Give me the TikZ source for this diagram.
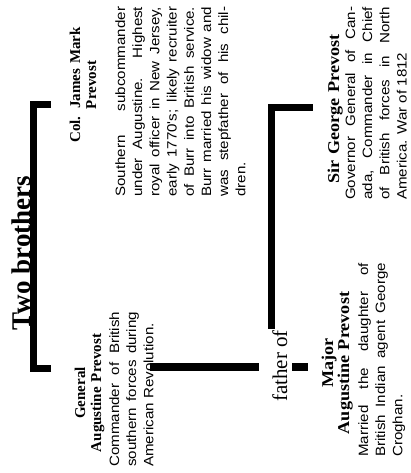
\documentclass[tikz,border=0pt]{standalone}
\usepackage{fontspec}
\setmainfont{Liberation Serif}
\newfontfamily\bodyfont[FakeStretch=1.12]{Liberation Sans}
\newfontfamily\headfont{Liberation Serif}
\newfontfamily\wideheadfont[FakeStretch=1.1]{Liberation Serif}
\usetikzlibrary{positioning}

\begin{document}
\begin{tikzpicture}[x=1pt, y=1pt,
    every node/.style={inner sep=0pt},
    heading/.style={font=\headfont\bfseries\fontsize{27}{30}\selectfont, anchor=base},
    who/.style={font=\headfont\bfseries\fontsize{15}{16}\selectfont, align=center, text width=200pt, anchor=base},
    widewho/.style={who, font=\wideheadfont\bfseries\fontsize{16.5}{16}\selectfont},
    desc/.style={font=\bodyfont\fontsize{13.5}{17.2}\selectfont, align=justify, anchor=base west},
    link/.style={font=\headfont\fontsize{21}{24}\selectfont, anchor=base},
    bar/.style={line width=7pt}
]
\useasboundingbox (0,0) rectangle (411,473);
\clip (0,0) rectangle (411,473);
\begin{scope}[rotate=90, transform shape]

% Nodes
\node[heading] (brothers) at (220,-30) {Two brothers};
\node[who] (jameshead) at (388,-80) {Col. James Mark\\Prevost};
\node[desc, text width=190pt] (jamesdesc) at (276,-125) {Southern subcommander\linebreak under Augustine. Highest\linebreak royal officer in New Jersey,\linebreak early 1770's; likely recruiter\linebreak of Burr into British service.\linebreak Burr married his widow and\linebreak was stepfather of his chil-\linebreak dren.};
\node[who] (genhead) at (80,-85) {General\\Augustine Prevost};
\node[desc, text width=155pt] (gendesc) at (6,-119) {Commander of British\linebreak southern forces during\linebreak American Revolution.};
\node[link] (fatherof) at (107,-287) {father of};
\node[widewho] (majorhead) at (110,-333) {Major\\Augustine Prevost};
\node[desc, text width=194pt] (majordesc) at (16,-368) {Married the daughter of\linebreak British Indian agent George\linebreak Croghan.};
\node[widewho] (georgehead) at (364,-339) {Sir George Prevost};
\node[desc, text width=193pt] (georgedesc) at (273,-355) {\parfillskip=0pt Governor General of Can-\linebreak ada, Commander in Chief\linebreak of British forces in North\linebreak America. War of 1812};

\coordinate (genline) at (106,-150);
\coordinate (stubend) at (106,-308);
\coordinate (georgetick) at (365,-313);
\coordinate (lefttick) at (104,-51);
\coordinate (righttick) at (368,-51);

% Lines
\draw[bar] (lefttick) -- ++(0,17.5) -| (righttick);
\draw[bar, line width=8pt, shorten >=13pt] (genline) -- (genline |- fatherof.north);
\draw[bar, line width=8pt, shorten <=5pt] (fatherof.south -| genline) -- (stubend);
\draw[bar, shorten <=1pt] ([yshift=8pt]fatherof.east) -| (georgetick);

\end{scope}
\end{tikzpicture}
\end{document}
